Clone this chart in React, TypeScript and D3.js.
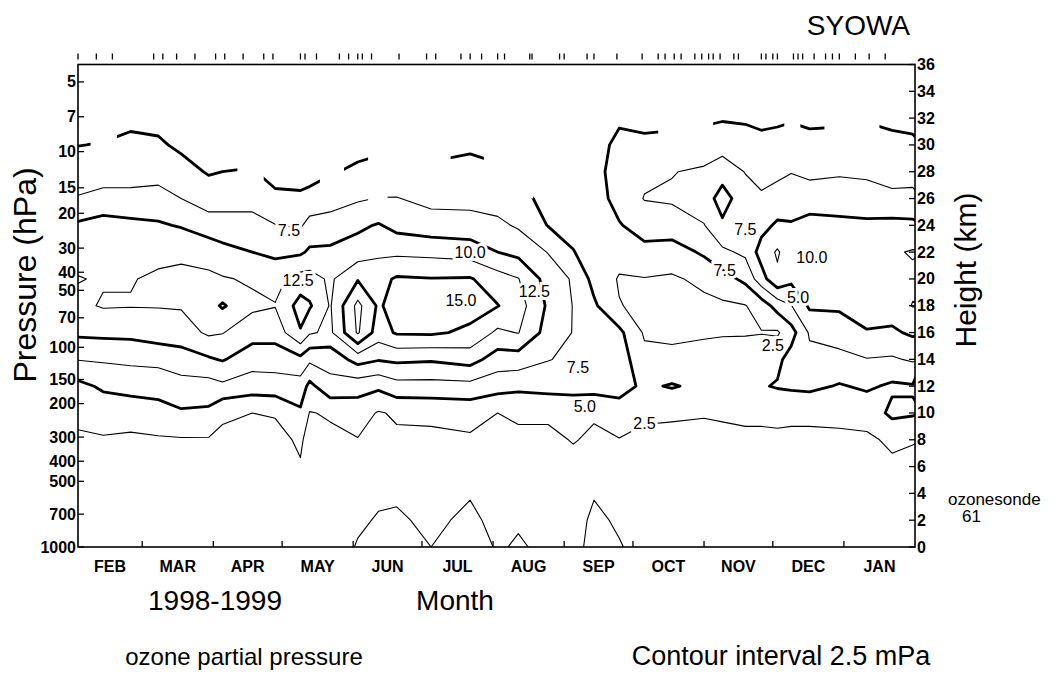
import * as d3 from "d3";

const WIDTH = 1062;
const HEIGHT = 675;
const FRAME = { left: 78, right: 915, top: 64.5, bottom: 547 };
const FONT = "'Liberation Sans', Arial, Helvetica, sans-serif";

// heights of the grid rows (km)
const HEIGHTS_KM = [0, 2, 4, 6, 8, 10, 12, 14, 16, 18, 20, 22, 24, 26, 28, 30, 32, 34, 36];

// dates of the grid columns
const COLUMN_DATES = [
  "1998-02-01", "1998-02-12", "1998-02-24", "1998-03-08", "1998-03-18", "1998-03-30",
  "1998-04-05", "1998-04-18", "1998-04-28", "1998-05-09", "1998-05-13", "1998-05-22",
  "1998-06-03", "1998-06-12", "1998-06-20", "1998-07-05", "1998-07-22", "1998-08-03",
  "1998-08-12", "1998-08-25", "1998-09-05", "1998-09-14", "1998-09-25", "1998-10-06",
  "1998-10-18", "1998-11-01", "1998-11-09", "1998-11-19", "1998-11-26", "1998-12-03",
  "1998-12-09", "1998-12-17", "1998-12-30", "1999-01-11", "1999-01-22", "1999-01-31",
];

// ozone partial pressure (mPa), one profile per column, 0 km .. 36 km
const PROFILES = [
  [1.6, 1.7, 1.8, 1.9, 2.2, 3.0, 4.3, 7.6, 10.5, 12.0, 12.6, 11.8, 10.4, 7.7, 6.1, 4.95, 4.0, 3.2, 2.7],
  [1.6, 1.7, 1.8, 1.9, 2.3, 3.5, 5.4, 7.8, 10.6, 12.7, 12.3, 11.9, 10.9, 8.5, 6.0, 5.1, 4.2, 3.4, 2.8],
  [1.6, 1.7, 1.8, 1.9, 2.3, 3.0, 6.2, 7.9, 10.7, 12.6, 12.4, 11.7, 10.5, 8.6, 5.9, 5.4, 4.6, 3.6, 2.9],
  [1.6, 1.7, 1.8, 1.9, 2.3, 3.6, 6.4, 8.0, 11.4, 12.6, 12.8, 12.0, 10.3, 8.4, 6.6, 5.3, 4.4, 3.5, 2.9],
  [1.6, 1.7, 1.8, 1.9, 2.3, 4.7, 6.6, 8.8, 11.4, 12.7, 13.0, 12.1, 9.8, 7.5, 5.8, 4.6, 3.9, 3.2, 2.7],
  [1.6, 1.7, 1.8, 1.9, 2.3, 4.5, 6.5, 9.7, 12.9, 14.0, 13.0, 11.5, 8.7, 6.3, 4.8, 4.2, 3.6, 3.0, 2.6],
  [1.6, 1.7, 1.8, 1.9, 2.1, 2.8, 7.0, 10.2, 12.6, 15.3, 12.7, 10.8, 8.5, 6.5, 5.0, 4.3, 3.6, 3.0, 2.6],
  [1.6, 1.7, 1.8, 1.9, 2.1, 2.5, 6.2, 8.6, 11.0, 13.0, 12.2, 10.0, 8.3, 6.7, 5.1, 4.4, 3.7, 3.1, 2.6],
  [1.6, 1.7, 1.8, 1.9, 2.1, 2.6, 6.4, 8.6, 11.0, 12.6, 11.8, 9.4, 7.6, 5.3, 4.5, 3.9, 3.4, 2.9, 2.5],
  [1.7, 1.8, 1.9, 2.4, 2.7, 4.6, 6.4, 9.3, 14.8, 16.0, 13.5, 9.6, 7.2, 5.3, 4.3, 3.7, 3.2, 2.7, 2.3],
  [1.7, 1.8, 1.9, 1.9, 2.0, 2.4, 4.3, 8.0, 12.8, 15.3, 13.5, 10.4, 8.4, 5.8, 4.0, 3.5, 3.0, 2.6, 2.2],
  [1.8, 1.9, 2.0, 2.0, 2.1, 2.7, 6.8, 8.3, 12.0, 12.3, 12.1, 10.4, 8.8, 6.2, 4.8, 3.9, 3.2, 2.7, 2.3],
  [2.6, 2.3, 2.2, 2.1, 2.4, 3.6, 6.0, 11.0, 17.8, 18.2, 14.8, 11.2, 9.5, 7.2, 5.4, 4.3, 3.4, 2.6, 2.2],
  [2.8, 2.6, 2.3, 2.0, 2.1, 2.3, 5.5, 10.2, 13.8, 14.6, 14.2, 12.0, 10.2, 7.6, 5.6, 4.6, 3.7, 2.9, 2.4],
  [3.0, 2.7, 2.3, 2.0, 2.1, 2.8, 6.6, 10.5, 15.3, 16.2, 15.3, 12.0, 9.2, 7.6, 5.8, 4.7, 3.8, 2.9, 2.4],
  [2.5, 2.2, 2.0, 1.9, 2.0, 3.0, 6.6, 10.3, 15.4, 16.4, 15.1, 11.8, 8.6, 6.8, 5.3, 4.5, 3.7, 2.8, 2.3],
  [3.0, 2.8, 2.4, 2.0, 2.2, 3.3, 6.7, 11.0, 14.5, 16.0, 15.2, 11.4, 8.4, 6.8, 5.6, 4.7, 3.8, 3.0, 2.4],
  [2.4, 2.1, 1.9, 1.9, 2.0, 2.5, 6.0, 8.8, 12.0, 15.1, 13.6, 10.0, 8.0, 6.5, 5.3, 4.4, 3.6, 2.9, 2.4],
  [2.6, 2.4, 2.1, 2.0, 2.1, 2.8, 5.6, 8.8, 12.6, 13.6, 12.6, 9.3, 7.2, 5.6, 4.6, 3.9, 3.3, 2.8, 2.3],
  [2.3, 2.2, 2.0, 1.9, 2.1, 2.8, 5.9, 7.6, 9.0, 9.6, 9.0, 7.4, 4.9, 4.4, 4.0, 3.6, 3.2, 2.8, 2.4],
  [2.0, 1.9, 1.9, 2.0, 2.6, 3.8, 5.6, 7.0, 7.4, 7.4, 7.2, 5.1, 4.2, 3.9, 3.7, 3.4, 3.1, 2.7, 2.3],
  [3.0, 2.8, 2.4, 2.1, 2.2, 2.7, 6.0, 6.4, 6.2, 5.4, 4.2, 3.9, 3.8, 3.7, 3.6, 3.4, 3.0, 2.6, 2.2],
  [2.6, 2.3, 2.1, 2.0, 2.4, 4.0, 5.8, 6.3, 5.6, 2.6, 2.3, 3.4, 4.8, 6.0, 6.8, 6.0, 4.4, 3.2, 2.6],
  [2.0, 1.9, 1.9, 1.9, 2.1, 2.8, 4.6, 3.2, 2.2, 2.0, 2.4, 4.2, 6.2, 7.6, 7.0, 5.6, 4.2, 3.2, 2.6],
  [1.9, 1.9, 1.9, 1.9, 2.1, 2.7, 5.2, 3.0, 2.1, 1.9, 2.2, 3.8, 6.4, 7.8, 7.4, 5.8, 4.3, 3.3, 2.6],
  [1.9, 1.9, 1.9, 1.9, 2.1, 2.6, 4.4, 3.4, 2.2, 2.0, 3.0, 5.4, 7.4, 8.8, 7.9, 6.0, 4.6, 3.4, 2.7],
  [1.9, 1.9, 1.9, 1.9, 2.1, 2.7, 4.2, 3.6, 2.3, 2.1, 4.0, 7.0, 9.6, 11.0, 9.0, 6.4, 4.8, 3.5, 2.8],
  [1.9, 1.9, 1.9, 2.0, 2.2, 2.8, 4.6, 3.8, 2.3, 2.4, 5.6, 8.0, 9.0, 8.6, 7.4, 6.0, 4.7, 3.5, 2.8],
  [1.9, 1.9, 1.9, 2.0, 2.2, 2.8, 4.8, 4.0, 2.4, 3.6, 9.0, 11.0, 9.2, 7.8, 6.8, 5.6, 4.5, 3.4, 2.7],
  [1.9, 1.9, 1.9, 2.0, 2.2, 2.9, 5.2, 4.4, 2.2, 6.0, 12.0, 12.8, 10.4, 8.4, 7.0, 5.8, 4.6, 3.5, 2.8],
  [1.9, 1.9, 1.9, 2.0, 2.2, 2.8, 5.4, 6.0, 4.0, 7.4, 10.6, 11.0, 10.2, 8.8, 7.4, 6.0, 4.8, 3.6, 2.8],
  [1.9, 1.9, 1.9, 2.0, 2.2, 2.8, 5.6, 6.8, 7.8, 10.4, 11.6, 11.8, 11.0, 8.6, 7.0, 5.6, 4.6, 3.5, 2.8],
  [1.9, 1.9, 1.9, 2.0, 2.2, 2.9, 4.8, 6.8, 8.6, 10.4, 11.8, 11.6, 10.6, 8.8, 7.2, 5.8, 4.6, 3.5, 2.8],
  [1.9, 1.9, 1.9, 2.0, 2.1, 3.4, 5.4, 7.4, 9.8, 11.4, 12.1, 12.0, 10.6, 8.2, 7.2, 6.0, 4.8, 3.6, 2.8],
  [1.9, 1.9, 1.9, 2.1, 2.9, 5.6, 4.6, 7.2, 9.6, 11.2, 12.3, 12.2, 10.8, 7.8, 7.0, 5.6, 4.5, 3.5, 2.7],
  [1.9, 1.9, 1.9, 2.1, 2.6, 5.3, 4.8, 7.8, 10.4, 12.6, 12.0, 12.7, 10.6, 8.0, 6.8, 5.4, 4.4, 3.4, 2.7],
];

// highest level reached by the soundings around each column (km)
const DATA_TOP_KM = [
  31, 29, 33, 33, 33, 33, 33, 27, 33, 33, 33, 26, 33, 25.5, 27, 27, 31, 27,
  26, 33, 33, 33, 33, 33, 29, 29, 34, 34, 34, 34, 30, 34, 29, 31, 34, 34,
];

const CONTOUR_LEVELS = [2.5, 5, 7.5, 10, 12.5, 15, 17.5];

const LABEL_DATES = [
  "1998-05-04", "1998-05-08", "1998-07-22", "1998-07-18", "1998-08-19", "1998-09-07",
  "1998-09-10", "1998-10-06", "1998-11-19", "1998-11-10", "1998-12-18", "1998-12-12", "1998-12-01",
];
const LABEL_KM = [23.6, 19.9, 22.0, 18.4, 19.1, 13.4, 10.5, 9.2, 23.7, 20.6, 21.6, 18.6, 15.0];
const LABEL_TEXT = ["7.5", "12.5", "10.0", "15.0", "12.5", "7.5", "5.0", "2.5", "7.5", "7.5", "10.0", "5.0", "2.5"];

// ozonesonde launch dates (61)
const SONDE_DATES = [
  "1998-02-01", "1998-02-09", "1998-02-16", "1998-03-06", "1998-03-10", "1998-03-16",
  "1998-03-24", "1998-04-02", "1998-04-06", "1998-04-14", "1998-04-23", "1998-04-27",
  "1998-05-09", "1998-05-11", "1998-05-16", "1998-05-26", "1998-05-30", "1998-06-03",
  "1998-06-05", "1998-06-09", "1998-06-21", "1998-07-03", "1998-07-07", "1998-07-18",
  "1998-07-22", "1998-07-27", "1998-08-03", "1998-08-06", "1998-08-17", "1998-08-18",
  "1998-08-30", "1998-09-01", "1998-09-11", "1998-09-14", "1998-09-24", "1998-10-05",
  "1998-10-12", "1998-10-15", "1998-10-19", "1998-10-22", "1998-10-28", "1998-10-31",
  "1998-11-03", "1998-11-05", "1998-11-08", "1998-11-14", "1998-11-16", "1998-11-26",
  "1998-11-28", "1998-12-01", "1998-12-03", "1998-12-10", "1998-12-12", "1998-12-14",
  "1998-12-19", "1998-12-24", "1998-12-27", "1998-12-30", "1999-01-06", "1999-01-12",
  "1999-01-19",
];

const MONTH_NAMES = ["FEB", "MAR", "APR", "MAY", "JUN", "JUL", "AUG", "SEP", "OCT", "NOV", "DEC", "JAN"];

const PRESSURE_TICKS = [5, 7, 10, 15, 20, 30, 40, 50, 70, 100, 150, 200, 300, 400, 500, 700, 1000];
// height of each pressure level on the chart (km)
const PRESSURE_KM = [34.7, 32.1, 29.5, 26.8, 24.9, 22.3, 20.5, 19.15, 17.1, 14.9, 12.5, 10.7, 8.2, 6.4, 4.9, 2.45, 0];

const HEIGHT_TICKS = [0, 2, 4, 6, 8, 10, 12, 14, 16, 18, 20, 22, 24, 26, 28, 30, 32, 34, 36];

const parse = d3.timeParse("%Y-%m-%d");

export default function App() {
  const xScale = d3
    .scaleTime()
    .domain([parse("1998-02-01")!, parse("1999-02-01")!])
    .range([FRAME.left, FRAME.right]);
  const yKm = d3.scaleLinear().domain([0, 36]).range([FRAME.bottom, FRAME.top]);

  // grid -> pixel mapping (d3.contours puts sample i at i + 0.5)
  const colX = COLUMN_DATES.map((d) => xScale(parse(d)!));
  const gx = d3.scaleLinear().domain(colX.map((_, i) => i + 0.5)).range(colX);
  const gy = d3
    .scaleLinear()
    .domain(HEIGHTS_KM.map((_, j) => j + 0.5))
    .range(HEIGHTS_KM.map((h) => yKm(h)));

  const nx = PROFILES.length;
  const ny = HEIGHTS_KM.length;
  const values: number[] = new Array(nx * ny);
  for (let j = 0; j < ny; j++) {
    for (let i = 0; i < nx; i++) values[j * nx + i] = PROFILES[i][j];
  }
  const contours = d3.contours().size([nx, ny]).thresholds(CONTOUR_LEVELS)(values);

  const ringPath = (ring: number[][]) =>
    "M" + ring.map(([a, b]) => `${gx(a).toFixed(1)},${gy(b).toFixed(1)}`).join("L") + "Z";

  // area covered by soundings
  const mids = colX.slice(1).map((x, i) => (colX[i] + x) / 2);
  const clipPts: [number, number][] = [];
  DATA_TOP_KM.forEach((top, i) => {
    const xa = i === 0 ? FRAME.left : mids[i - 1];
    const xb = i === nx - 1 ? FRAME.right : mids[i];
    clipPts.push([xa, yKm(top)], [xb, yKm(top)]);
  });
  clipPts.push([FRAME.right, FRAME.bottom], [FRAME.left, FRAME.bottom]);
  const clipD = "M" + clipPts.map((p) => p.join(",")).join("L") + "Z";

  const monthStarts = d3.timeMonth.range(parse("1998-02-01")!, parse("1999-02-02")!);

  return (
    <div style={{ position: "absolute", left: 0, top: 0 }}>
      <svg width={WIDTH} height={HEIGHT} fontFamily={FONT} style={{ display: "block", background: "#fff" }}>
        <defs>
          <clipPath id="data-area">
            <path d={clipD} />
          </clipPath>
        </defs>

        {/* contours */}
        <g clipPath="url(#data-area)" fill="none" stroke="#000" strokeLinejoin="round" strokeLinecap="round">
          {contours.map((c, k) => (
            <path
              key={k}
              d={c.coordinates.flatMap((poly) => poly.map(ringPath)).join("")}
              strokeWidth={c.value % 5 === 0 ? 2.8 : 1.1}
            />
          ))}
        </g>

        {/* contour labels */}
        <g fontSize={16} textAnchor="middle" dominantBaseline="central">
          {LABEL_TEXT.map((t, i) => (
            <text
              key={i}
              x={xScale(parse(LABEL_DATES[i])!)}
              y={yKm(LABEL_KM[i])}
              stroke="#fff"
              strokeWidth={6}
              paintOrder="stroke"
              fill="#000"
            >
              {t}
            </text>
          ))}
        </g>

        {/* frame */}
        <rect
          x={FRAME.left}
          y={FRAME.top}
          width={FRAME.right - FRAME.left}
          height={FRAME.bottom - FRAME.top}
          fill="none"
          stroke="#000"
          strokeWidth={1.6}
        />

        {/* sonde dates on top */}
        <g stroke="#000" strokeWidth={1.3}>
          {SONDE_DATES.map((d, i) => {
            const x = xScale(parse(d)!);
            return <line key={i} x1={x} x2={x} y1={FRAME.top - 11} y2={FRAME.top - 5} />;
          })}
        </g>

        {/* left pressure axis */}
        <g fontSize={16} fontWeight="bold" textAnchor="end" dominantBaseline="central">
          {PRESSURE_TICKS.map((p, i) => {
            const y = yKm(PRESSURE_KM[i]);
            return (
              <g key={p}>
                <line x1={FRAME.left} x2={FRAME.left + 6} y1={y} y2={y} stroke="#000" strokeWidth={1.3} />
                <text x={FRAME.left - 2} y={y}>
                  {p}
                </text>
              </g>
            );
          })}
        </g>

        {/* right height axis */}
        <g fontSize={16} fontWeight="bold" textAnchor="start" dominantBaseline="central">
          {HEIGHT_TICKS.map((h) => {
            const y = yKm(h);
            return (
              <g key={h}>
                <line x1={FRAME.right - 6} x2={FRAME.right} y1={y} y2={y} stroke="#000" strokeWidth={1.3} />
                <text x={FRAME.right + 2} y={y}>
                  {h}
                </text>
              </g>
            );
          })}
        </g>

        {/* month axis */}
        <g>
          {monthStarts.slice(1, -1).map((m, i) => {
            const x = xScale(m);
            return <line key={i} x1={x} x2={x} y1={FRAME.bottom} y2={FRAME.bottom - 6} stroke="#000" strokeWidth={1.3} />;
          })}
          {MONTH_NAMES.map((name, i) => {
            const x = (xScale(monthStarts[i]) + xScale(monthStarts[i + 1])) / 2;
            return (
              <text key={name} x={x} y={FRAME.bottom + 25} fontSize={16} fontWeight="bold" textAnchor="middle">
                {name}
              </text>
            );
          })}
        </g>

        {/* titles */}
        <text x={910} y={35} fontSize={28} textAnchor="end">
          SYOWA
        </text>
        <text transform="translate(36,275) rotate(-90)" fontSize={32} textAnchor="middle">
          Pressure (hPa)
        </text>
        <text transform="translate(976,270) rotate(-90)" fontSize={30} textAnchor="middle">
          Height (km)
        </text>
        <text x={948} y={505} fontSize={17}>
          ozonesonde
        </text>
        <text x={962} y={522} fontSize={17}>
          61
        </text>
        <text x={215} y={610} fontSize={28} textAnchor="middle">
          1998-1999
        </text>
        <text x={455} y={610} fontSize={28} textAnchor="middle">
          Month
        </text>
        <text x={244} y={665} fontSize={24} textAnchor="middle">
          ozone partial pressure
        </text>
        <text x={781} y={665} fontSize={27} textAnchor="middle">
          Contour interval 2.5 mPa
        </text>
      </svg>
    </div>
  );
}
